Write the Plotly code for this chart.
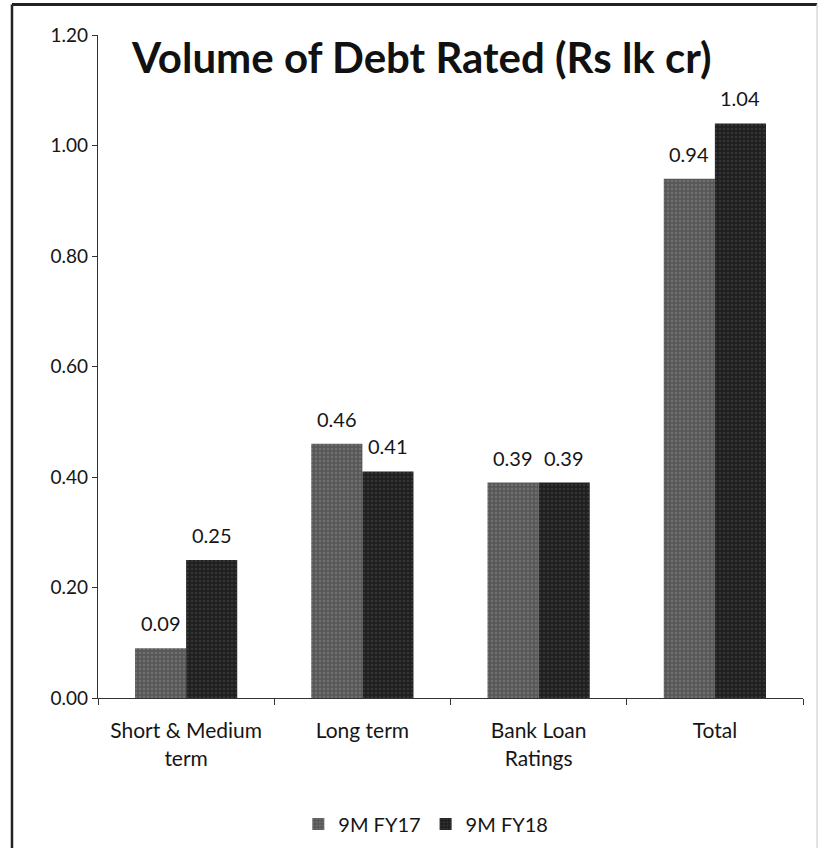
import plotly.graph_objects as go

# Volume of debt rated, Rs lakh crore
categories = ["Short & Medium<br>term", "Long term", "Bank Loan<br>Ratings", "Total"]
fy17_values = [0.09, 0.46, 0.39, 0.94]
fy18_values = [0.25, 0.41, 0.39, 1.04]
series_names = ["9M FY17", "9M FY18"]
y_ticks = [0.0, 0.2, 0.4, 0.6, 0.8, 1.0, 1.2]

FONT = "Lato, 'Open Sans', sans-serif"
PLOT_W = 819 - 98 - 16
BARGAP = 0.42
BAR_PX = PLOT_W / len(categories) * (1 - BARGAP) / 2

fig = go.Figure()
fig.add_trace(go.Bar(
    name=series_names[0], x=categories, y=fy17_values,
    marker=dict(color="#575757", line=dict(width=0),
                pattern=dict(shape=".", fgcolor="#8a8a8a", bgcolor="#575757", size=4, solidity=0.35)),
))
fig.add_trace(go.Bar(
    name=series_names[1], x=categories, y=fy18_values,
    marker=dict(color="#1f1f1f", line=dict(width=0),
                pattern=dict(shape=".", fgcolor="#4a4a4a", bgcolor="#1f1f1f", size=4, solidity=0.35)),
))

# value labels sitting a little above each bar
value_labels = []
for side, values in ((-0.5, fy17_values), (0.5, fy18_values)):
    for cat, v in zip(categories, values):
        value_labels.append(dict(
            x=cat, y=v, xref="x", yref="y", text=f"{v:.2f}", showarrow=False,
            xshift=side * BAR_PX, yshift=11, xanchor="center", yanchor="bottom",
            font=dict(family=FONT, size=20, color="#161616"),
        ))

fig.update_layout(
    width=819, height=848,
    margin=dict(l=98, r=16, t=35, b=150, autoexpand=False),
    paper_bgcolor="white", plot_bgcolor="white",
    barmode="group", bargap=BARGAP, bargroupgap=0,
    font=dict(family=FONT, color="#161616"),
    showlegend=True,
    legend=dict(orientation="h", x=0.465, xanchor="center", y=-0.19, yanchor="middle",
                font=dict(family=FONT, size=20, color="#161616"),
                itemwidth=30, traceorder="normal"),
    annotations=[dict(
        text="<b>Volume of Debt Rated (Rs lk cr)</b>", xref="paper", yref="paper",
        x=0.459, y=0.967, xanchor="center", yanchor="middle", showarrow=False,
        font=dict(family=FONT, size=42, color="#111111"),
    )] + value_labels,
    shapes=[
        # outer frame of the chart
        dict(type="line", xref="paper", yref="paper", x0=-0.122, x1=-0.122, y0=1.046, y1=-0.3,
             line=dict(color="#222222", width=2.5)),
        dict(type="line", xref="paper", yref="paper", x0=-0.122, x1=1.02, y0=1.046, y1=1.046,
             line=dict(color="#222222", width=3)),
        dict(type="line", xref="paper", yref="paper", x0=1.02, x1=1.02, y0=1.046, y1=-0.3,
             line=dict(color="#d8d8d8", width=1.5)),
    ],
)

fig.update_yaxes(
    range=[0, 1.2], tickvals=y_ticks, ticktext=[f"{v:.2f}" for v in y_ticks],
    showgrid=False, zeroline=False, showline=True, linecolor="#333333", linewidth=1.2,
    ticks="outside", ticklen=5, tickcolor="#333333",
    tickfont=dict(family=FONT, size=19, color="#161616"),
)
fig.update_xaxes(
    showgrid=False, showline=True, linecolor="#333333", linewidth=1.2,
    ticks="outside", ticklen=6, tickcolor="#333333", tickson="boundaries",
    ticklabelstandoff=14,
    tickfont=dict(family=FONT, size=21, color="#161616"),
)

fig.write_html("out.html")
